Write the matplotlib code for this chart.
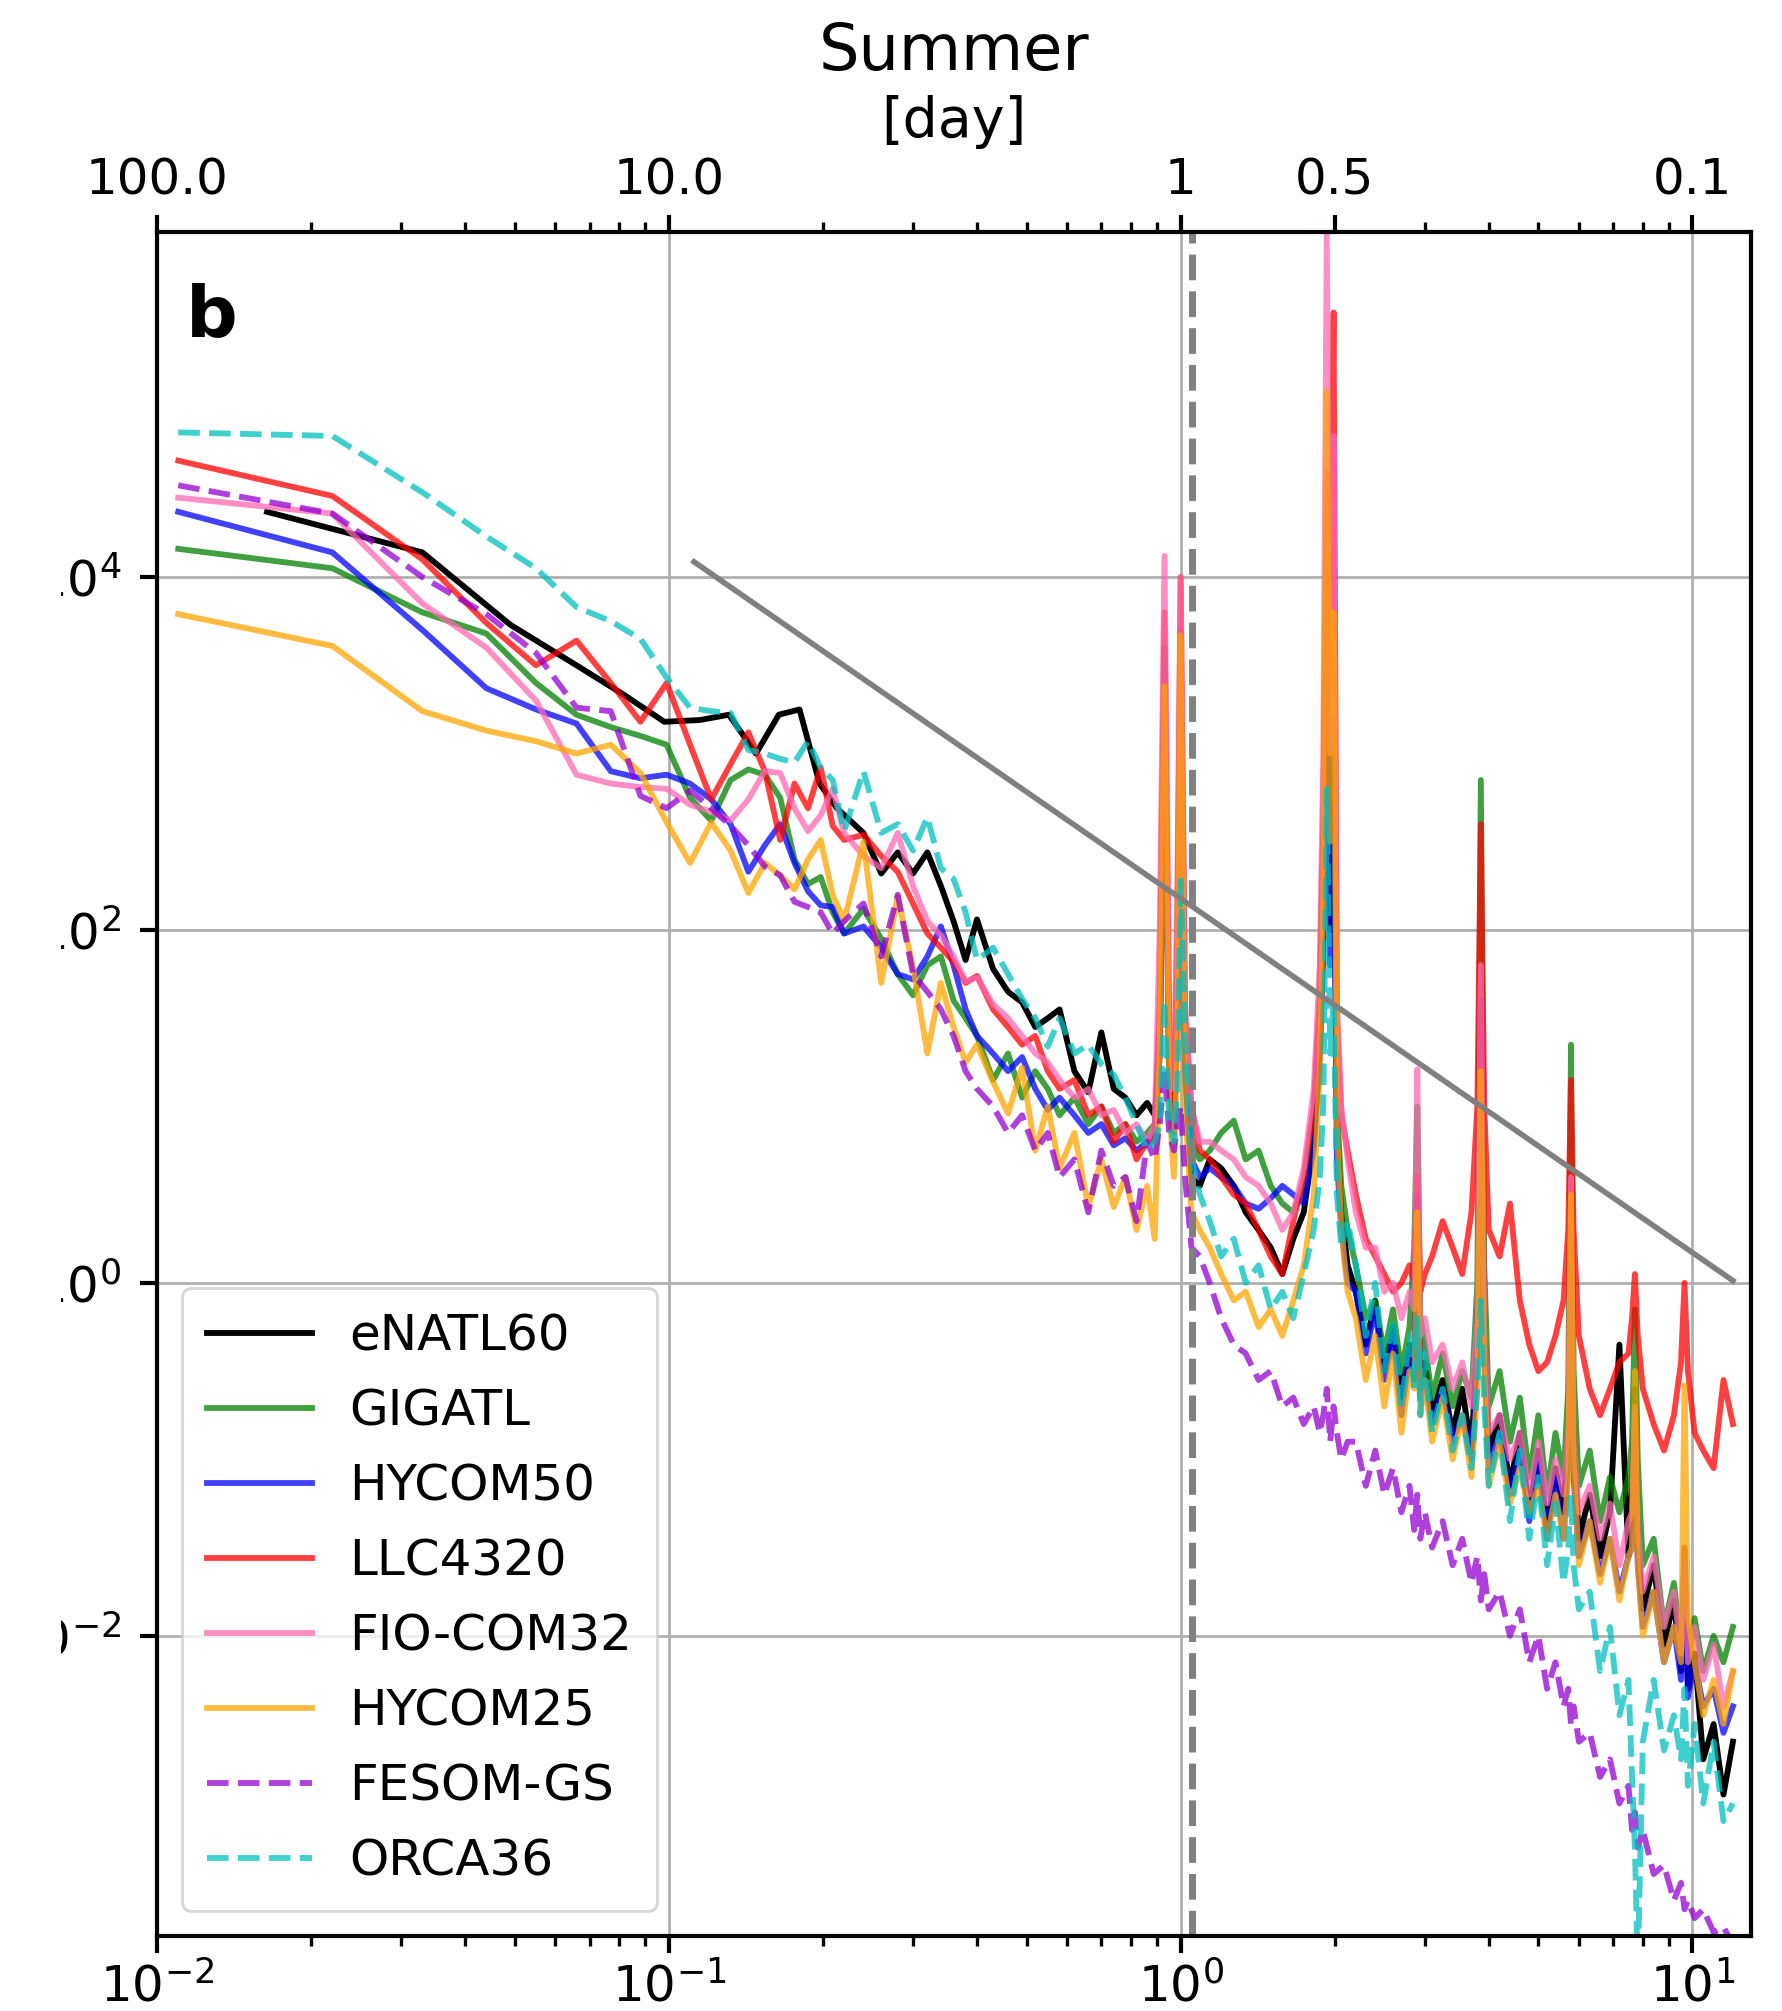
import matplotlib.pyplot as plt
import numpy as np
from matplotlib.patches import Rectangle

# frequency [cpd]; low part of the shared grid, then the upper part
freq_low = [0.011, 0.022, 0.033, 0.044, 0.055, 0.066, 0.077, 0.088, 0.099, 0.11,
            0.121, 0.132, 0.143, 0.154, 0.165, 0.176, 0.187, 0.198, 0.209, 0.22]
freq_high = [0.24, 0.26, 0.28, 0.30, 0.32, 0.34, 0.36, 0.38, 0.40, 0.43, 0.46,
             0.49, 0.52, 0.55, 0.58, 0.62, 0.66, 0.70, 0.74, 0.78, 0.82, 0.86,
             0.89, 0.91, 0.93, 0.95, 0.97, 0.985, 1.0, 1.02, 1.05, 1.09,
             1.14, 1.2, 1.27, 1.34, 1.42, 1.5, 1.58, 1.66, 1.74, 1.82, 1.87,
             1.90, 1.93, 1.96, 1.99, 2.02, 2.06, 2.12,
             2.2, 2.3, 2.4, 2.5, 2.6, 2.7, 2.8, 2.86, 2.90, 2.94, 3.0, 3.1,
             3.25, 3.4, 3.55, 3.7, 3.80, 3.86, 3.92, 4.0,
             4.2, 4.4, 4.6, 4.8, 5.0, 5.2, 5.4, 5.6, 5.72, 5.79, 5.86, 6.0,
             6.3, 6.6, 6.9, 7.2, 7.5, 7.62, 7.72, 7.82, 8.0,
             8.4, 8.8, 9.2, 9.5, 9.65, 9.8, 10.1, 10.5, 11.0, 11.5, 12.0]
# eNATL60 has a coarser low-frequency resolution
freq_enatl_low = [0.0164, 0.033, 0.049, 0.066, 0.082, 0.098, 0.115, 0.131,
                  0.148, 0.164, 0.180, 0.197, 0.213]

# log10 of the spectra
enatl60 = [4.37, 4.14, 3.73, 3.50, 3.33, 3.18, 3.19, 3.22, 3.00, 3.22, 3.25, 2.83, 2.69,
           2.55, 2.32, 2.44, 2.32, 2.44, 2.25, 2.05, 1.83, 2.06, 1.78, 1.65, 1.59, 1.45, 1.50, 1.55, 1.20, 1.08, 1.42, 1.10, 1.05, 0.95, 1.02,
           0.95, 1.3, 3.2, 1.2, 0.9, 1.6, 3.5, 1.2, 0.6, 0.55,
           0.7, 0.65, 0.55, 0.4, 0.3, 0.2, 0.05, 0.25, 0.4, 0.8, 1.3,
           1.9, 4.0, 2.0, 3.0, 0.9, 0.4, 0.1,
           -0.05, -0.35, -0.1, -0.5, -0.25, -0.65, -0.35, -0.55, 0.3, -0.6, -0.45, -0.75,
           -0.55, -0.85, -0.6, -0.95, -0.3, 1.5, -0.2, -0.95,
           -0.75, -1.15, -0.85, -1.3, -0.95, -1.4, -1.05, -1.3, -0.8, 0.3, -0.9, -1.45,
           -1.2, -1.55, -1.3, -0.35, -1.55, -1.2, -0.6, -1.5, -1.85,
           -1.6, -2.05, -1.8, -2.2, -1.5, -2.3, -2.1, -2.7, -2.5, -2.9, -2.6]
gigatl = [4.16, 4.05, 3.80, 3.68, 3.40, 3.22, 3.15, 3.10, 3.05, 2.75, 2.62, 2.85, 2.91, 2.88, 2.75, 2.40, 2.26, 2.30, 2.10, 1.98,
          2.12, 1.95, 1.75, 1.63, 1.80, 1.85, 1.60, 1.50, 1.40, 1.15, 1.30, 1.05, 1.20, 1.10, 0.95, 1.05, 0.90, 1.00, 0.85, 0.90, 0.80, 0.85,
          0.9, 1.5, 3.6, 1.2, 0.9, 1.8, 3.7, 1.3, 0.8, 0.7,
          0.75, 0.85, 0.92, 0.70, 0.75, 0.55, 0.45, 0.40, 0.55, 0.95, 1.6,
          2.6, 4.45, 2.2, 3.2, 1.0, 0.55, 0.3,
          0.1, -0.2, -0.1, -0.4, -0.15, -0.5, -0.25, 0.2, 1.0, -0.2, -0.35, -0.65,
          -0.4, -0.7, -0.5, -0.65, 0.0, 2.85, 0.1, -0.7,
          -0.5, -0.9, -0.65, -1.1, -0.75, -1.2, -0.85, -1.1, -0.6, 1.35, -0.5, -1.15,
          -0.95, -1.35, -1.1, -1.3, -1.1, -0.9, -0.15, -1.0, -1.6,
          -1.45, -1.95, -1.7, -2.05, -1.7, -2.15, -1.9, -2.2, -2.0, -2.15, -1.95]
hycom50 = [4.37, 4.14, 3.70, 3.37, 3.25, 3.17, 2.90, 2.86, 2.88, 2.83, 2.74, 2.60, 2.33, 2.48, 2.60, 2.38, 2.22, 2.14, 2.13, 1.98,
           2.02, 1.90, 1.75, 1.72, 1.85, 2.02, 1.80, 1.55, 1.40, 1.30, 1.20, 1.28, 1.10, 0.98, 1.05, 0.95, 0.85, 0.90, 0.78, 0.82, 0.75, 0.80,
           0.85, 1.3, 3.3, 1.1, 0.85, 1.5, 3.5, 1.2, 0.7, 0.6,
           0.65, 0.6, 0.55, 0.45, 0.42, 0.48, 0.55, 0.50, 0.45, 0.75, 1.3,
           2.2, 3.9, 1.8, 2.7, 0.7, 0.3, 0.0,
           -0.05, -0.4, -0.15, -0.55, -0.3, -0.75, -0.4, -0.5, 0.5, -0.65, -0.55, -0.8,
           -0.6, -0.9, -0.75, -1.0, -0.4, 1.6, -0.4, -1.05,
           -0.85, -1.2, -0.95, -1.35, -1.0, -1.45, -1.1, -1.45, -1.0, 0.0, -1.1, -1.55,
           -1.35, -1.65, -1.45, -1.75, -1.55, -1.5, -0.9, -1.6, -1.95,
           -1.75, -2.15, -1.95, -2.25, -1.6, -2.35, -2.15, -2.4, -2.3, -2.55, -2.4]
llc4320 = [4.66, 4.46, 4.10, 3.74, 3.50, 3.64, 3.40, 3.18, 3.40, 3.05, 2.74, 2.94, 3.12, 2.90, 2.51, 2.83, 2.69, 2.92, 2.59, 2.51,
           2.54, 2.42, 2.33, 2.15, 1.98, 1.90, 1.82, 1.70, 1.74, 1.55, 1.45, 1.35, 1.40, 1.20, 1.10, 1.15, 0.95, 1.00, 0.80, 0.90, 0.70, 0.80,
           0.8, 1.6, 3.8, 1.4, 1.0, 2.0, 4.0, 1.5, 1.0, 0.75,
           0.7, 0.6, 0.5, 0.45, 0.3, 0.15, 0.05, 0.35, 0.6, 1.0, 1.6,
           2.6, 4.6, 3.4, 5.5, 1.5, 0.95, 0.75,
           0.5, 0.25, 0.15, 0.05, -0.05, 0.0, 0.1, 0.0, 0.6, -0.05, 0.05, 0.15,
           0.35, 0.2, 0.05, 0.4, 1.0, 2.6, 1.0, 0.3,
           0.15, 0.45, -0.1, -0.35, -0.5, -0.45, -0.3, -0.1, 0.3, 1.15, 0.3, -0.3,
           -0.6, -0.75, -0.6, -0.45, -0.4, -0.2, 0.05, -0.3, -0.6,
           -0.8, -0.95, -0.75, -0.45, 0.0, -0.5, -0.85, -0.95, -1.05, -0.55, -0.8]
fiocom32 = [4.45, 4.36, 3.85, 3.60, 3.30, 2.88, 2.83, 2.81, 2.80, 2.71, 2.67, 2.62, 2.74, 2.90, 2.89, 2.69, 2.56, 2.65, 2.80, 2.55,
            2.42, 2.35, 2.55, 2.25, 2.05, 1.97, 1.85, 1.71, 1.73, 1.58, 1.50, 1.40, 1.30, 1.25, 1.15, 1.05, 1.10, 0.95, 0.98, 0.85, 0.90, 0.80,
            0.9, 2.0, 4.12, 1.5, 1.1, 2.2, 4.0, 1.6, 1.0, 0.8,
            0.8, 0.75, 0.7, 0.6, 0.55, 0.45, 0.3, 0.4, 0.65, 1.1, 1.8,
            3.0, 5.95, 3.0, 4.8, 1.6, 1.0, 0.7,
            0.4, 0.2, 0.2, -0.05, 0.0, -0.2, -0.05, -0.15, 1.21, -0.3, -0.2, -0.45,
            -0.35, -0.6, -0.45, -0.7, -0.2, 1.8, -0.2, -0.85,
            -0.75, -1.0, -0.85, -1.2, -0.9, -1.25, -1.0, -1.2, -0.8, 0.6, -0.9, -1.3,
            -1.15, -1.45, -1.25, -1.6, -1.35, -1.3, -0.7, -1.4, -1.75,
            -1.55, -1.95, -1.75, -2.1, -1.5, -2.15, -1.95, -2.25, -2.05, -2.4, -2.2]
hycom25 = [3.79, 3.61, 3.24, 3.13, 3.07, 3.00, 3.05, 2.89, 2.61, 2.38, 2.61, 2.45, 2.21, 2.38, 2.31, 2.23, 2.40, 2.51, 2.20, 2.05,
           2.50, 1.70, 2.19, 1.79, 1.30, 1.70, 1.45, 1.25, 1.35, 1.14, 0.96, 1.22, 0.75, 1.00, 0.65, 0.85, 0.43, 0.70, 0.43, 0.60, 0.30, 0.55,
           0.25, 1.3, 3.38, 1.0, 0.6, 1.4, 3.67, 1.0, 0.4, 0.3,
           0.2, 0.05, -0.1, -0.05, -0.25, -0.15, -0.3, -0.1, 0.1, 0.5, 1.2,
           2.2, 5.05, 2.5, 3.8, 0.9, 0.3, -0.05,
           -0.2, -0.55, -0.3, -0.7, -0.4, -0.85, -0.5, -0.6, 0.4, -0.75, -0.55, -0.9,
           -0.65, -1.0, -0.75, -1.1, -0.6, 1.2, -0.5, -1.15,
           -0.9, -1.25, -1.05, -1.3, -1.15, -1.45, -1.2, -1.45, -1.1, 0.5, -1.0, -1.6,
           -1.35, -1.7, -1.45, -1.8, -1.55, -1.5, -0.5, -1.6, -2.0,
           -1.75, -2.15, -1.95, -2.15, -0.58, -1.9, -2.15, -2.45, -2.25, -2.5, -2.2]
fesom_gs = [4.52, 4.36, 4.00, 3.79, 3.57, 3.26, 3.24, 2.76, 2.69, 2.79, 2.69, 2.59, 2.48, 2.36, 2.31, 2.16, 2.13, 2.10, 1.98, 2.05,
            2.15, 1.85, 2.20, 1.75, 1.65, 1.55, 1.40, 1.20, 1.10, 1.00, 0.85, 0.95, 0.75, 0.85, 0.60, 0.70, 0.40, 0.75, 0.55, 0.60, 0.35, 0.80,
            0.7, 0.9, 1.2, 0.85, 0.75, 0.9, 1.0, 0.6, 0.2, 0.15,
            0.0, -0.2, -0.35, -0.4, -0.55, -0.5, -0.7, -0.65, -0.8, -0.7, -0.85,
            -0.75, -0.6, -0.9, -0.7, -0.85, -1.0, -0.9,
            -0.9, -1.15, -0.95, -1.2, -1.05, -1.3, -1.15, -1.4, -1.2, -1.45, -1.3, -1.5,
            -1.35, -1.6, -1.45, -1.7, -1.55, -1.8, -1.65, -1.85,
            -1.75, -2.0, -1.85, -2.15, -2.0, -2.3, -2.15, -2.4, -2.3, -2.5, -2.4, -2.6,
            -2.55, -2.8, -2.7, -2.95, -2.85, -3.1, -3.0, -3.2, -3.1,
            -3.35, -3.3, -3.5, -3.4, -3.55, -3.5, -3.6, -3.55, -3.68, -3.65, -3.75]
orca36 = [4.82, 4.80, 4.48, 4.23, 4.05, 3.83, 3.75, 3.65, 3.43, 3.26, 3.24, 3.23, 3.02, 3.00, 2.97, 2.95, 3.07, 2.92, 2.85, 2.56,
          2.90, 2.55, 2.60, 2.45, 2.64, 2.35, 2.29, 2.10, 1.83, 1.90, 1.75, 1.61, 1.50, 1.34, 1.50, 1.30, 1.35, 1.24, 1.18, 1.05, 0.90, 0.75,
          0.8, 0.9, 1.6, 0.9, 0.8, 1.1, 2.3, 1.4, 0.7, 0.5,
          0.35, 0.15, 0.25, 0.0, 0.1, -0.15, -0.05, -0.2, 0.05, 0.3, 0.6,
          1.0, 2.8, 1.3, 1.6, 0.5, 0.2, 0.35,
          0.1, -0.3, 0.0, -0.5, -0.2, -0.7, -0.3, -0.6, -0.2, -0.75, -0.4, -0.85,
          -0.6, -0.95, -0.75, -1.05, -0.6, -0.1, -0.7, -1.15,
          -0.85, -1.35, -0.95, -1.45, -1.1, -1.6, -1.25, -1.7, -1.5, -1.2, -1.6, -1.85,
          -1.75, -2.2, -1.95, -2.45, -2.25, -2.8, -3.2, -3.9, -2.6,
          -2.25, -2.65, -2.45, -2.7, -2.3, -2.85, -2.5, -2.95, -2.6, -3.05, -2.95]

names = ['eNATL60', 'GIGATL', 'HYCOM50', 'LLC4320', 'FIO-COM32', 'HYCOM25',
         'FESOM-GS', 'ORCA36']
colors = ['k', 'g', 'b', 'r', 'hotpink', 'orange', 'darkviolet', 'c']

# f^-2 reference slope and inertial frequency
slope_f = [0.112, 12.0]
slope_p = [1.22e4, 1.03]
f_inertial = 1.054

fig = plt.figure(figsize=(8.915, 10.055), dpi=200)
ax = fig.add_axes([0.0881, 0.0375, 0.8938, 0.8470])

series = [(freq_enatl_low + freq_high, enatl60)]
for vals in [gigatl, hycom50, llc4320, fiocom32, hycom25, fesom_gs, orca36]:
    series.append((freq_low + freq_high, vals))

for i, (f, v) in enumerate(series):
    ls = '--' if names[i] in ('FESOM-GS', 'ORCA36') else '-'
    alpha = 1.0 if i == 0 else 0.75
    ax.loglog(f, 10 ** np.array(v), ls=ls, color=colors[i], lw=2.1,
              alpha=alpha, label=names[i])

ax.plot(slope_f, slope_p, color='gray', lw=2)
ax.axvline(f_inertial, color='gray', ls='--', lw=2.5)

ax.set_xlim(0.01, 13)
ax.set_ylim(2e-4, 9e5)
ax.set_yticks([1e-2, 1, 1e2, 1e4])
ax.yaxis.set_minor_locator(plt.NullLocator())
ax.grid(True, which='major', color='#b0b0b0', lw=1.0)
ax.set_axisbelow(True)
ax.tick_params(which='major', length=6, width=1.5, labelsize=18)
ax.tick_params(axis='y', which='major', pad=7)
ax.tick_params(which='minor', length=3.5, width=1.2)
for s in ax.spines.values():
    s.set_linewidth(1.5)

ax2 = ax.twiny()
ax2.set_xscale('log')
ax2.set_xlim(ax.get_xlim())
ax2.set_xticks([0.01, 0.1, 1, 2, 10])
ax2.set_xticklabels(['100.0', '10.0', '1', '0.5', '0.1'])
ax2.tick_params(which='major', length=6, width=1.5, labelsize=18, pad=4)
ax2.tick_params(which='minor', length=3.5, width=1.2)
ax2.set_xlabel('[day]', fontsize=20, labelpad=7)
ax2.set_title('Summer', fontsize=23, pad=9)

ax.text(0.018, 0.971, 'b', transform=ax.transAxes, fontsize=26,
        fontweight='bold', va='top', ha='left')
ax.legend(loc='lower left', fontsize=18, handlelength=2.1, handletextpad=0.75,
          labelspacing=0.54, borderpad=0.5)

# the panel is cut on its left edge, as in the source figure
fig.patches.append(Rectangle((0, 0), 0.034, 1, transform=fig.transFigure,
                             facecolor='white', edgecolor='none', zorder=10))

plt.savefig('out.png', dpi=200)
